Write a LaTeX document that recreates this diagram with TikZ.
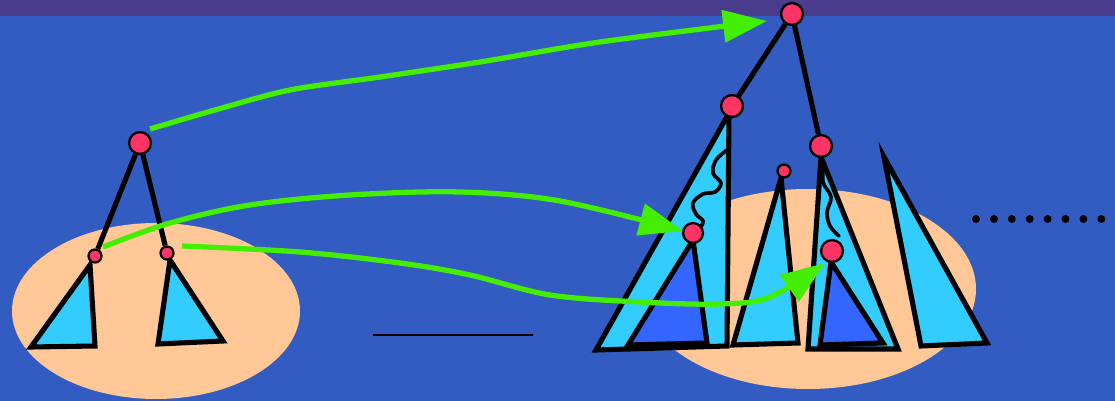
\documentclass[tikz,border=0pt]{standalone}
\usetikzlibrary{arrows.meta}
\definecolor{bgblue}{RGB}{51,92,194}
\definecolor{band}{RGB}{74,60,140}
\definecolor{peach}{RGB}{255,200,150}
\definecolor{cyanfill}{RGB}{51,204,255}
\definecolor{darkfill}{RGB}{51,102,255}
\definecolor{nodered}{RGB}{255,51,102}
\definecolor{arrgreen}{RGB}{68,238,0}
\pgfdeclarelayer{fg}
\pgfsetlayers{main,fg}
\newcommand{\pxu}{*0.567pt}
\tikzset{
  tri/.style={draw=black, line width=2.9pt, line join=miter, fill=cyanfill},
  subtri/.style={tri, fill=darkfill},
  big/.style={circle, draw=black, line width=1.3pt, fill=nodered, minimum size=22\pxu, inner sep=0pt},
  small/.style={big, minimum size=13\pxu},
  edge/.style={draw=black, line width=2.9pt},
  wavy/.style={draw=black, line width=2.1pt, line cap=round},
  garrow/.style={draw=arrgreen, line width=3pt, -{Triangle[length=25pt, width=18pt]}, arrgreen},
  blob/.style={fill=peach, draw=none},
  dot/.style={circle, fill=black, inner sep=0pt, minimum size=8\pxu}
}
\begin{document}
\begin{tikzpicture}[x=0.02cm, y=-0.02cm]
\useasboundingbox (0,0) rectangle (1115,401);
\fill[bgblue] (0,0) rectangle (1115,401);
\fill[band] (0,0) rectangle (1115,16);
% ellipses
\fill[blob] (156,311) ellipse [x radius=144, y radius=88];
\fill[blob] (808,289) ellipse [x radius=168, y radius=100];
% left triangles
\draw[tri] (90,265) -- (31,347) -- (95,346) -- cycle;
\draw[tri] (170,260) -- (158,344) -- (223,341) -- cycle;
% right triangles
\draw[tri] (729,113) -- (596,350) -- (727,346) -- cycle;
\draw[subtri] (693,240) -- (628,345) -- (707,343) -- cycle;
\draw[tri] (781,178) -- (733,345) -- (798,343) -- cycle;
\draw[tri] (821,157) -- (808,349) -- (898,349) -- cycle;
\draw[subtri] (831,262) -- (820,345) -- (883,343) -- cycle;
\draw[tri] (884,157) -- (921,346) -- (987,343) -- cycle;
% wavy paths
\draw[wavy] plot[smooth, tension=0.6] coordinates {(727,150) (716,160) (713,173) (721,183) (715,192) (703,194) (693,203) (696,214) (703,221) (700,228)};
\draw[wavy] plot[smooth, tension=0.6] coordinates {(824,163) (823,182) (831,197) (827,212) (830,226) (839,236)};
% horizontal line
\draw[black, line width=1.5pt] (373,335) coordinate (hl1) -- (533,335) coordinate (hl2);
% dots
\foreach \i in {0,...,7} {\node[dot] (d\i) at (976+17.9*\i,219) {};}
% circles
\begin{pgfonlayer}{fg}
\node[big] (lroot) at (140,143) {};
\node[small] (l1) at (95,256) {};
\node[small] (l2) at (167,253) {};
\node[big] (rroot) at (792,14) {};
\node[big] (ra) at (732,106) {};
\node[big] (rb) at (821,146) {};
\node[small] (rc) at (784,171) {};
\node[big, minimum size=20\pxu] (rd) at (693,233) {};
\node[big] (re) at (832,251) {};
\end{pgfonlayer}
% tree edges
\draw[edge] (lroot) -- (l1);
\draw[edge] (lroot) -- (l2);
\draw[edge] (rroot) -- (ra);
\draw[edge] (rroot) -- (rb);
% green arrows
\coordinate (a1s) at (150,129);
\coordinate (a1e) at (767,21);
\coordinate (a2s) at (103,247);
\coordinate (a2e) at (683,231);
\coordinate (a3s) at (182,246);
\coordinate (a3e) at (825,263);
\draw[garrow] plot[smooth, tension=0.5] coordinates {(a1s) (215,110) (290,90) (380,77) (480,62) (600,42) (a1e)};
\draw[garrow] plot[smooth, tension=0.55] coordinates {(a2s) (170,223) (250,205) (350,195) (460,192) (560,201) (a2e)};
\draw[garrow] plot[smooth, tension=0.55] coordinates {(a3s) (300,252) (400,263) (470,275) (550,295) (640,302) (720,304) (770,297) (a3e)};
\end{tikzpicture}
\end{document}
